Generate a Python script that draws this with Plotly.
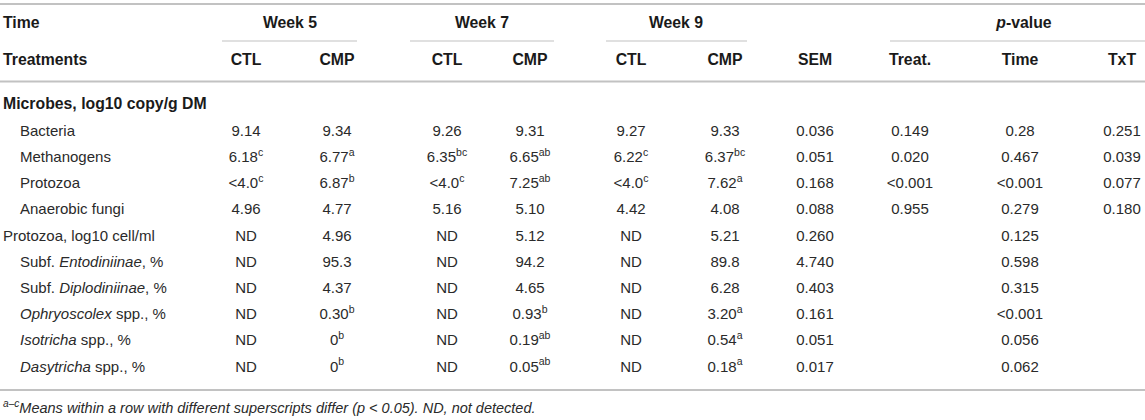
import plotly.graph_objects as go

# ---------------- data ----------------
row_labels = ["Bacteria", "Methanogens", "Protozoa", "Anaerobic fungi",
              "Protozoa, log10 cell/ml", "Subf. <i>Entodiniinae</i>, %",
              "Subf. <i>Diplodiniinae</i>, %", "<i>Ophryoscolex</i> spp., %",
              "<i>Isotricha</i> spp., %", "<i>Dasytricha</i> spp., %"]
row_indent = [1, 1, 1, 1, 0, 1, 1, 1, 1, 1]
section_label = "Microbes, log10 copy/g DM"

ctl5 = ["9.14", "6.18", "&lt;4.0", "4.96", "ND", "ND", "ND", "ND", "ND", "ND"]
ctl5_sup = ["", "c", "c", "", "", "", "", "", "", ""]
cmp5 = ["9.34", "6.77", "6.87", "4.77", "4.96", "95.3", "4.37", "0.30", "0", "0"]
cmp5_sup = ["", "a", "b", "", "", "", "", "b", "b", "b"]
ctl7 = ["9.26", "6.35", "&lt;4.0", "5.16", "ND", "ND", "ND", "ND", "ND", "ND"]
ctl7_sup = ["", "bc", "c", "", "", "", "", "", "", ""]
cmp7 = ["9.31", "6.65", "7.25", "5.10", "5.12", "94.2", "4.65", "0.93", "0.19", "0.05"]
cmp7_sup = ["", "ab", "ab", "", "", "", "", "b", "ab", "ab"]
ctl9 = ["9.27", "6.22", "&lt;4.0", "4.42", "ND", "ND", "ND", "ND", "ND", "ND"]
ctl9_sup = ["", "c", "c", "", "", "", "", "", "", ""]
cmp9 = ["9.33", "6.37", "7.62", "4.08", "5.21", "89.8", "6.28", "3.20", "0.54", "0.18"]
cmp9_sup = ["", "bc", "a", "", "", "", "", "a", "a", "a"]
sem = ["0.036", "0.051", "0.168", "0.088", "0.260", "4.740", "0.403", "0.161", "0.051", "0.017"]
p_treat = ["0.149", "0.020", "&lt;0.001", "0.955", "", "", "", "", "", ""]
p_time = ["0.28", "0.467", "&lt;0.001", "0.279", "0.125", "0.598", "0.315", "&lt;0.001", "0.056", "0.062"]
p_txt = ["0.251", "0.039", "0.077", "0.180", "", "", "", "", "", ""]

group_labels = ["Week 5", "Week 7", "Week 9", "<i>p</i>-value"]
col_labels = ["CTL", "CMP", "CTL", "CMP", "CTL", "CMP", "SEM", "Treat.", "Time", "TxT"]
footnote = "<sup>a–c</sup>Means within a row with different superscripts differ (p &lt; 0.05). ND, not detected."

# ---------------- layout constants ----------------
W, H = 1145, 420
col_x = [246, 337, 447, 530, 631, 725, 815, 910, 1020, 1122]
group_span = [(222, 357), (410, 554), (606, 747), (890, 1145)]
group_x = [290, 482, 676, 1024]
x_left, x_indent = 3, 20
y_time, y_treat, y_section = 24, 61, 105
y_first, pitch = 132, 26.2
y_rows = [y_first + i * pitch for i in range(len(row_labels))]
y_top_line, y_group_line, y_head_line, y_bottom_line, y_foot = 4, 41, 81.5, 390, 409
TXT = "#2a2a2a"
TXT_B = "#1a1a1a"
LINE = "#c2c2c2"
FONT = "Liberation Sans, Arial, sans-serif"
FS, FS_B, FS_F = 15, 15.8, 14.5

fig = go.Figure()

def text_trace(xs, ys, texts, pos="middle center", size=FS, color=TXT):
    fig.add_trace(go.Scatter(x=xs, y=ys, text=texts, mode="text",
                             textposition=pos, cliponaxis=False,
                             textfont=dict(family=FONT, size=size, color=color),
                             hoverinfo="skip", showlegend=False))

def fmt(vals, sups):
    return [v + (f"<sup>{s}</sup>" if s else "") for v, s in zip(vals, sups)]

# header
text_trace([x_left], [y_time], ["<b>Time</b>"], pos="middle right", size=FS_B, color=TXT_B)
text_trace([x_left], [y_treat], ["<b>Treatments</b>"], pos="middle right", size=FS_B, color=TXT_B)
text_trace(group_x, [y_time] * len(group_x), [f"<b>{g}</b>" for g in group_labels],
           size=FS_B, color=TXT_B)
text_trace(col_x, [y_treat] * len(col_x), [f"<b>{c}</b>" for c in col_labels],
           size=FS_B, color=TXT_B)

# first column
text_trace([x_left], [y_section], [f"<b>{section_label}</b>"], pos="middle right",
           size=FS_B, color=TXT_B)
text_trace([x_indent if ind else x_left for ind in row_indent], y_rows, row_labels,
           pos="middle right")

# body columns
columns = [fmt(ctl5, ctl5_sup), fmt(cmp5, cmp5_sup), fmt(ctl7, ctl7_sup),
           fmt(cmp7, cmp7_sup), fmt(ctl9, ctl9_sup), fmt(cmp9, cmp9_sup),
           sem, p_treat, p_time, p_txt]
for cx, vals in zip(col_x, columns):
    text_trace([cx] * len(vals), y_rows, vals)

# footnote
text_trace([x_left], [y_foot], [f"<i>{footnote}</i>"], pos="middle right", size=FS_F)

# rules
shapes = []
for yy in (y_top_line, y_head_line, y_bottom_line):
    shapes.append(dict(type="line", xref="x", yref="y", x0=0, x1=W, y0=yy, y1=yy,
                       line=dict(color=LINE, width=2)))
for a, b in group_span:
    shapes.append(dict(type="line", xref="x", yref="y", x0=a, x1=b,
                       y0=y_group_line, y1=y_group_line,
                       line=dict(color=LINE, width=1.2)))

fig.update_layout(
    width=W, height=H, margin=dict(l=0, r=0, t=0, b=0),
    paper_bgcolor="white", plot_bgcolor="white", shapes=shapes,
    xaxis=dict(range=[0, W], visible=False, fixedrange=True),
    yaxis=dict(range=[H, 0], visible=False, fixedrange=True),
)
fig.write_html("out.html", config={"displayModeBar": False},
               post_script="document.body.style.margin='0';")
